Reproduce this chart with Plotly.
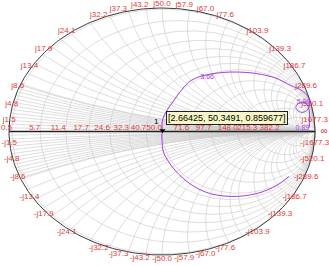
import numpy as np
import plotly.graph_objects as go

Z0 = 50.0

# Resistance labels (ohms) along the real axis
res_labels = [0.5, 5.7, 11.4, 17.7, 24.6, 32.3, 40.7, 50.0, 71.6, 97.7, 148.0, 215.3, 382.2]
# Reactance labels (ohms) around the rim
react_labels = [1.5, 4.8, 8.6, 13.4, 17.9, 24.1, 32.2, 37.3, 43.2, 50.0, 57.9, 67.0,
                77.6, 103.9, 139.3, 186.7, 289.6, 520.1, 1677.3]

# Grid values (normalized)
grid_r = [0.01, 0.114, 0.228, 0.354, 0.492, 0.646, 0.814, 1.0, 1.432, 1.954, 2.96, 4.306, 7.644, 17.0]
grid_x = ([0.015 * k for k in range(1, 14)] + [0.2, 0.25, 0.3, 0.35, 0.4, 0.45, 0.5, 0.6, 0.7, 0.8, 0.9,
          1.0, 1.2, 1.4, 1.6, 1.8, 2.0, 2.5, 3.0, 3.5, 4.0, 5.0, 6.0, 7.0, 8.0, 10.0, 15.0, 20.0, 50.0])

# Measured reflection coefficient trace (S11 real / imag)
s11_re = [0.83, 0.75, 0.62, 0.45, 0.275, 0.124, 0.013, 0.0, 0.0, 0.006, 0.078, 0.19, 0.34,
          0.556, 0.732, 0.843, 0.915, 0.955, 0.965, 0.95, 0.92, 0.89, 0.875, 0.89, 0.925,
          0.95, 0.962, 0.965, 0.962]
s11_im = [-0.364, -0.437, -0.502, -0.526, -0.486, -0.364, -0.178, -0.073, 0.0, 0.105, 0.251,
          0.413, 0.47, 0.478, 0.437, 0.372, 0.33, 0.28, 0.22, 0.175, 0.155, 0.165, 0.195,
          0.225, 0.235, 0.215, 0.17, 0.1, 0.03]
freq_label_idx = [12, 24, 28]
freq_label_txt = ["3.66", "5.00", "0.89"]
freq_label_pos = ["bottom left", "middle center", "middle left"]

# Cursor readout [freq, R, X]
cursor = [2.66425, 50.3491, 0.859677]


def gamma(z):
    return (z - 1) / (z + 1)


gx, gy = [], []
# resistance circles
for r in grid_r:
    t = np.linspace(0, 2 * np.pi, 241)
    c, rad = r / (1 + r), 1 / (1 + r)
    gx += list(c + rad * np.cos(t)) + [None]
    gy += list(rad * np.sin(t)) + [None]
# reactance arcs
rr = np.concatenate([[0.0], np.geomspace(1e-3, 1e4, 260)])
for x in grid_x:
    for s in (1, -1):
        g = gamma(rr + 1j * s * x)
        gx += list(g.real) + [None]
        gy += list(g.imag) + [None]

fig = go.Figure()
fig.add_trace(go.Scatter(x=gx, y=gy, mode="lines", line=dict(color="#c8c8c8", width=0.6),
                         hoverinfo="skip", showlegend=False))

# outer circle
t = np.linspace(0, 2 * np.pi, 361)
fig.add_trace(go.Scatter(x=np.cos(t), y=np.sin(t), mode="lines",
                         line=dict(color="#3a3a3a", width=1), hoverinfo="skip", showlegend=False))
# real axis
fig.add_trace(go.Scatter(x=[-1, 1], y=[0, 0], mode="lines",
                         line=dict(color="#202020", width=1.6), hoverinfo="skip", showlegend=False))

lab_font = dict(family="Liberation Sans, Arial", size=8, color="#e23a3a")

# resistance labels
rg = [gamma(v / Z0).real for v in res_labels]
fig.add_trace(go.Scatter(x=rg, y=[0] * len(rg), mode="text", text=[f"{v:.1f}" for v in res_labels],
                         textposition="top left", textfont=lab_font, cliponaxis=False,
                         hoverinfo="skip", showlegend=False))
fig.add_trace(go.Scatter(x=[1.0], y=[0], mode="text", text=["  \u221e"], textposition="middle right",
                         textfont=dict(family="Liberation Sans, Arial", size=10, color="#e23a3a"),
                         cliponaxis=False, hoverinfo="skip", showlegend=False))

# reactance labels
xg = [gamma(1j * v / Z0) for v in react_labels]
fig.add_trace(go.Scatter(x=[g.real for g in xg], y=[g.imag for g in xg], mode="text",
                         text=[f"j{v:.1f}" for v in react_labels], textposition="top center",
                         textfont=lab_font, cliponaxis=False, hoverinfo="skip", showlegend=False))
fig.add_trace(go.Scatter(x=[g.real for g in xg], y=[-g.imag for g in xg], mode="text",
                         text=[f"-j{v:.1f}" for v in react_labels], textposition="bottom center",
                         textfont=lab_font, cliponaxis=False, hoverinfo="skip", showlegend=False))

# trace
purple = "#a23ee6"
fig.add_trace(go.Scatter(x=s11_re, y=s11_im, mode="lines",
                         line=dict(color=purple, width=1, shape="spline", smoothing=1.0),
                         hoverinfo="skip", showlegend=False))
fig.add_trace(go.Scatter(x=[s11_re[i] for i in freq_label_idx], y=[s11_im[i] for i in freq_label_idx],
                         mode="text", text=freq_label_txt, textposition=freq_label_pos,
                         textfont=dict(family="Liberation Sans, Arial", size=7, color=purple),
                         cliponaxis=False, hoverinfo="skip", showlegend=False))

# cursor
cg = gamma(complex(cursor[1], cursor[2]) / Z0)
fig.add_trace(go.Scatter(x=[cg.real], y=[cg.imag], mode="markers+text", text=["1"],
                         textposition="top left",
                         marker=dict(symbol="triangle-down", size=5, color="black"),
                         textfont=dict(family="Liberation Sans, Arial", size=8, color="black"),
                         cliponaxis=False, hoverinfo="skip", showlegend=False))
fig.add_annotation(x=cg.real, y=cg.imag, xref="x", yref="y", showarrow=False,
                   text=f"[{cursor[0]}, {cursor[1]}, {cursor[2]}]", xanchor="left", yanchor="bottom",
                   xshift=3, yshift=5, bgcolor="#f6f6c6", bordercolor="#202020", borderwidth=1,
                   borderpad=1, font=dict(family="Liberation Sans, Arial", size=9, color="black"))

fig.update_xaxes(range=[-1 - 9 / 153, 1 + 14 / 153], visible=False)
fig.update_yaxes(range=[-1 - 11 / 123.5, 1 + 8 / 123.5], visible=False)
fig.update_layout(width=329, height=266, margin=dict(l=0, r=0, t=0, b=0),
                  paper_bgcolor="white", plot_bgcolor="white", showlegend=False)

fig.write_html("out.html")
